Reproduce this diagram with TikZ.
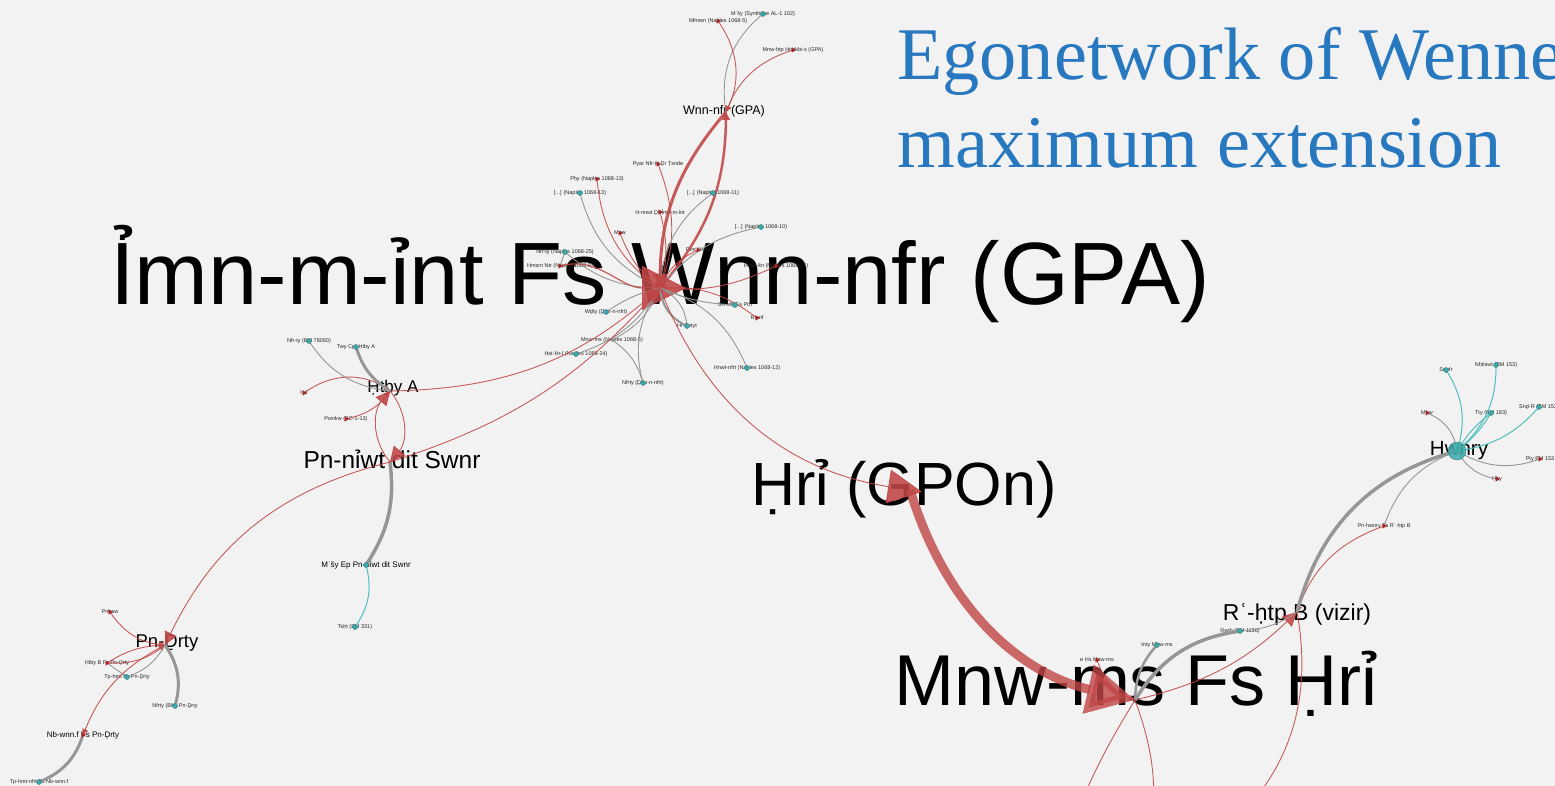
\documentclass[tikz,border=0pt]{standalone}
\usepackage{fontspec}
\setmainfont{Liberation Sans}
\newfontfamily\titlefont{Liberation Serif}
\usetikzlibrary{arrows.meta,shapes.geometric}
\definecolor{bgc}{RGB}{242,242,242}
\definecolor{titleblue}{RGB}{40,120,192}
\definecolor{redE}{RGB}{192,70,70}
\definecolor{grayE}{RGB}{150,150,150}
\definecolor{tealE}{RGB}{80,190,190}
\definecolor{tealD}{RGB}{60,170,170}
\definecolor{tealO}{RGB}{40,110,110}
\definecolor{redD}{RGB}{170,35,35}
\tikzset{
  re/.style={draw=redE, line width=0.9pt, opacity=0.88},
  ge/.style={draw=grayE, line width=0.9pt},
  te/.style={draw=tealE, line width=1pt},
  arr/.style={-{Triangle[length=#1pt,width=#1pt]}},
  bendL/.style={bend left=#1}, bendR/.style={bend right=#1},
  tdot/.style={circle, fill=tealD, draw=tealO, line width=0.3pt, inner sep=0pt, minimum size=5pt},
  rdot/.style={regular polygon, regular polygon sides=3, shape border rotate=-90, fill=redD, inner sep=0pt, minimum size=6pt},
  sl/.style={font=\fontsize{5.5}{6}\selectfont, inner sep=0pt, text=black!85},
  ml/.style={font=\fontsize{8}{9}\selectfont, inner sep=0pt, text=black},
  biglbl/.style={font=\fontsize{#1}{#1}\selectfont, inner sep=0pt, anchor=base, text=black},
  ttl/.style={anchor=base west, font=\titlefont\fontsize{74.3}{74.3}\selectfont, text=titleblue, inner sep=0pt},
}
\newcommand\mysat[4][sl]{\coordinate (#2) at (#3); \node[#1] (#2l) at (#2) {#4};}
\begin{document}
\begin{tikzpicture}[x=1pt,y=-1pt]
\useasboundingbox (0,0) rectangle (1555,786);
\fill[bgc] (0,0) rectangle (1555,786);
\clip (0,0) rectangle (1555,786);
% hubs
\coordinate (H) at (660,288);
\coordinate (W) at (726,112);
\coordinate (P) at (390,391);
\coordinate (N) at (390,462);
\coordinate (D) at (165,645);
\coordinate (R) at (910,490);
\coordinate (M) at (1135,700);
\coordinate (Q) at (1297,612);
\coordinate (Y) at (1457,451);
\coordinate (c1) at (1070,830);
\coordinate (c2) at (1148,850);
\coordinate (c3) at (1215,840);
% title
\node[ttl] (title1) at (897,80) {Egonetwork of Wenne};
\node[ttl] (title2) at (897,168) {maximum extension};
% big labels
\node[biglbl=88.5] (Hl) at (660,305) {Ỉmn-m-ỉnt Fs Wnn-nfr (GPA)};
\node[biglbl=72] (Ml) at (1136,705) {Mnw-ms Fs Ḥrỉ};
\node[biglbl=61] (Rl) at (904,505) {Ḥrỉ (GPOn)};
\node[biglbl=24.5] (Nl) at (392,468) {Pn-nỉwt dit Swnr};
\node[biglbl=23] (Ql) at (1297,620) {Rʿ-ḥtp B (vizir)};
\node[biglbl=20.5] (Yl) at (1459,455) {Hwnry};
\node[biglbl=17] (Pl) at (393,392) {Ḥtby A};
\node[biglbl=18.5] (Dl) at (167,647) {Pn-Ḏrty};
\node[biglbl=12.5] (Wl) at (724,115) {Wnn-nfr (GPA)};
% satellites
\mysat{t1}{763,14}{Mʿšy (Synthèse AL-1 102)}
\mysat{t2}{718,21}{Nfrnwn (Naples 1068-5)}
\mysat{t3}{793,50}{Mnw-ḥtp Ḥnḥkbi-s (GPA)}
\mysat{t4}{658,164}{Pyar Nfr-ṭiṭ Ḏr Ṭsnde}
\mysat{t5}{597,179}{Pḥy (Naples 1068-13)}
\mysat{t6}{580,193}{[...] (Naples 1068-13)}
\mysat{t7}{713,193}{[...] (Naples 1068-11)}
\mysat{t8}{660,212}{Ḥ-nnwt Ḏr Ỉmn-m-ỉnt}
\mysat{t9}{761,227}{[...] (Naples 1068-10)}
\mysat{t10}{620,233}{Mnw}
\mysat{t11}{698,250}{Ptnt Ḥtwy}
\mysat{t12}{565,252}{Nfr-ty (Naples 1068-25)}
\mysat{t13}{560,266}{Ḥmsnt Ntr (Naples 1068-9)}
\mysat{t14}{776,266}{Ḥnwt-ỉtn (Naples 1068-15)}
\mysat{t15}{735,305}{Sn-Mḥ Fs Ptḥ}
\mysat{t16}{757,318}{Rṭsnf}
\mysat{t17}{606,312}{Wḏty (Ḏqn-n-nfrt)}
\mysat{t18}{687,326}{Hr-ḥntyt}
\mysat{t19}{612,340}{Mnw-ms (Naples 1068-5)}
\mysat{t20}{576,354}{Ḥst-Ḥr-ỉ (Naples 1068-24)}
\mysat{t21}{643,383}{Nfrty (Ḏqn-n-nfrt)}
\mysat{t22}{747,368}{Ḥnwt-nfrt (Naples 1068-12)}
\mysat{l1}{309,341}{Nfr-ty (BM 78050)}
\mysat{l2}{356,347}{Twy Cpt-Ḥtby A}
\mysat{l3}{304,393}{Ḥd}
\mysat{l4}{346,419}{Pwnkw (BC-1-13)}
\mysat[ml]{l5}{366,565}{Mʿšy Ep Pn-nỉwt dit Swnr}
\mysat{l6}{355,627}{Tsḥt (BM 331)}
\mysat{b1}{110,612}{Pnḥsw}
\mysat{b2}{107,663}{Ḥtby B Fs Pn-Ḏrty}
\mysat{b3}{127,677}{Tp-hmt Fs Pn-Ḏrty}
\mysat{b4}{175,706}{Nfrty (BM) Pn-Ḏrty}
\mysat[ml]{b5}{83,735}{Nb-wnn.f Fs Pn-Ḏrty}
\mysat{b6}{39,782}{Tp-hmt-nfrt Fs Nb-wnn.f}
\mysat{r1}{1446,370}{Snnfr}
\mysat{r2}{1496,365}{Nḥtiswt (BM 153)}
\mysat{r3}{1427,413}{Mhw}
\mysat{r4}{1491,413}{Tty (BM 183)}
\mysat{r5}{1539,407}{Snḏ-R (BM 153)}
\mysat{r6}{1540,459}{Pty BM 153}
\mysat{r7}{1497,479}{Ḥḥy}
\mysat{r8}{1384,526}{Pn-hwnry Fs Rʿ-ḥtp B}
\mysat{r9}{1240,631}{Rwtḥ (BM 1136)}
\mysat{r10}{1157,645}{Inty Mnw-ms}
\mysat{r11}{1097,660}{e Ḥs Mnw-ms}
% edges top
\draw[ge,bendR=30] (t1) to (W);
\draw[re,arr=6,bendL=30] (t2) to (W);
\draw[re,arr=6,bendR=25] (t3) to (W);
\draw[re,line width=3pt,arr=14,bendR=20] (W) to (H);
\draw[re,line width=2.5pt,arr=8,bendR=20] (H) to (W);
% hub satellites
\draw[re,arr=6,bendL=20] (t4) to (H);
\draw[re,arr=6,bendR=25] (t5) to (H);
\draw[ge,bendR=25] (t6) to (H);
\draw[ge,bendR=25] (t7) to (H);
\draw[re,arr=6,bendL=15] (t8) to (H);
\draw[ge,bendR=20] (t9) to (H);
\draw[re,arr=6,bendR=15] (t10) to (H);
\draw[re,arr=6,bendR=20] (t11) to (H);
\draw[ge,bendR=20] (t12) to (H);
\draw[ge] (t12) to (t13);
\draw[re,line width=1.2pt,arr=44,shorten >=-26pt] (t13) to[out=15,in=180] (H);
\draw[re,arr=6,bendL=15] (t14) to (H);
\draw[ge,bendL=10] (t15) to (H);
\draw[re,arr=6,bendR=20] (t16) to (H);
\draw[ge,bendL=10] (t17) to (H);
\draw[ge,line width=2pt,bendL=30] (t18) to (H);
\draw[ge,bendR=30] (t18) to (H);
\draw[ge,bendR=20] (t19) to (H);
\draw[ge,bendR=20] (t20) to (H);
\draw[ge,bendL=25] (t21) to (H);
\draw[ge,bendR=20] (t21) to (t19);
\draw[ge,bendR=25] (t22) to (H);
% left cluster
\draw[re,arr=14,bendR=20] (P) to (H);
\draw[re,arr=10,bendR=15] (N) to (H);
\draw[re,arr=15,bendL=40] (P) to (N);
\draw[re,arr=14,bendL=40] (N) to (P);
\draw[re,arr=6,bendL=35] (l3) to (P);
\draw[re,arr=6,bendR=20] (l4) to (P);
\draw[ge,line width=3pt,bendR=20] (l2) to (P);
\draw[ge,bendR=25] (l1) to (P);
\draw[ge,line width=3.5pt,bendL=20] (N) to (l5);
\draw[te,bendL=25] (l5) to (l6);
\draw[re,arr=13,bendR=25] (N) to (D);
\draw[re,arr=6,bendR=20] (D) to (b5);
\draw[re,arr=6,bendR=25] (b1) to (D);
\draw[re,arr=6,bendR=20] (b2) to (D);
\draw[re,bendL=15] (b2) to (D);
\draw[ge,bendR=20] (b3) to (D);
\draw[ge] (b2) to (b3);
\draw[ge,line width=3pt,bendL=25] (D) to (b4);
\draw[ge,line width=3pt,bendL=25] (b5) to (b6);
% right
\draw[re,arr=34,bendR=30,shorten >=-12pt] (H) to (R);
\draw[re,line width=9pt,arr=48,bendR=30,opacity=0.8] (R) to (M);
\draw[re,arr=14,bendR=15] (M) to (Q);
\draw[re,arr=6,bendR=25] (r8) to (Q);
\draw[ge,line width=3.5pt,bendL=30] (Q) to (Y);
\draw[ge,bendL=25] (r8) to (Y);
\draw[ge,line width=3.5pt,bendL=25] (M) to (r9);
\draw[ge,line width=2.5pt,bendL=20] (M) to (r10);
\draw[ge,bendR=15] (r9) to (Q);
\draw[re,arr=6,bendR=25] (r11) to (M);
\draw[re,bendR=5] (M) to (c1);
\draw[re,bendL=15] (M) to (c2);
\draw[re,bendL=30] (Q) to (c3);
\draw[te,bendL=25] (r1) to (Y);
\draw[te,bendL=25] (r2) to (Y);
\draw[ge,bendL=30] (r3) to (Y);
\draw[te,bendL=10] (r4) to (Y);
\draw[te,bendR=10] (r4) to (Y);
\draw[te,bendL=20] (r5) to (Y);
\draw[ge,bendL=25] (r6) to (Y);
\draw[ge,bendL=25] (r7) to (Y);
% dots
\foreach \n in {t1,t6,t7,t9,t12,t15,t17,t18,t20,t21,t22,l1,l2,l5,l6,b3,b4,b6,r1,r2,r4,r5,r9,r10}
  \node[tdot] (\n d) at (\n) {};
\foreach \n in {t2,t3,t4,t5,t8,t10,t11,t13,t14,t16,l3,l4,b1,b2,b5,r3,r6,r7,r8,r11}
  \node[rdot] (\n d) at (\n) {};
\node[tdot, minimum size=18pt, fill opacity=0.85] (Yd) at (Y) {};
\end{tikzpicture}
\end{document}
